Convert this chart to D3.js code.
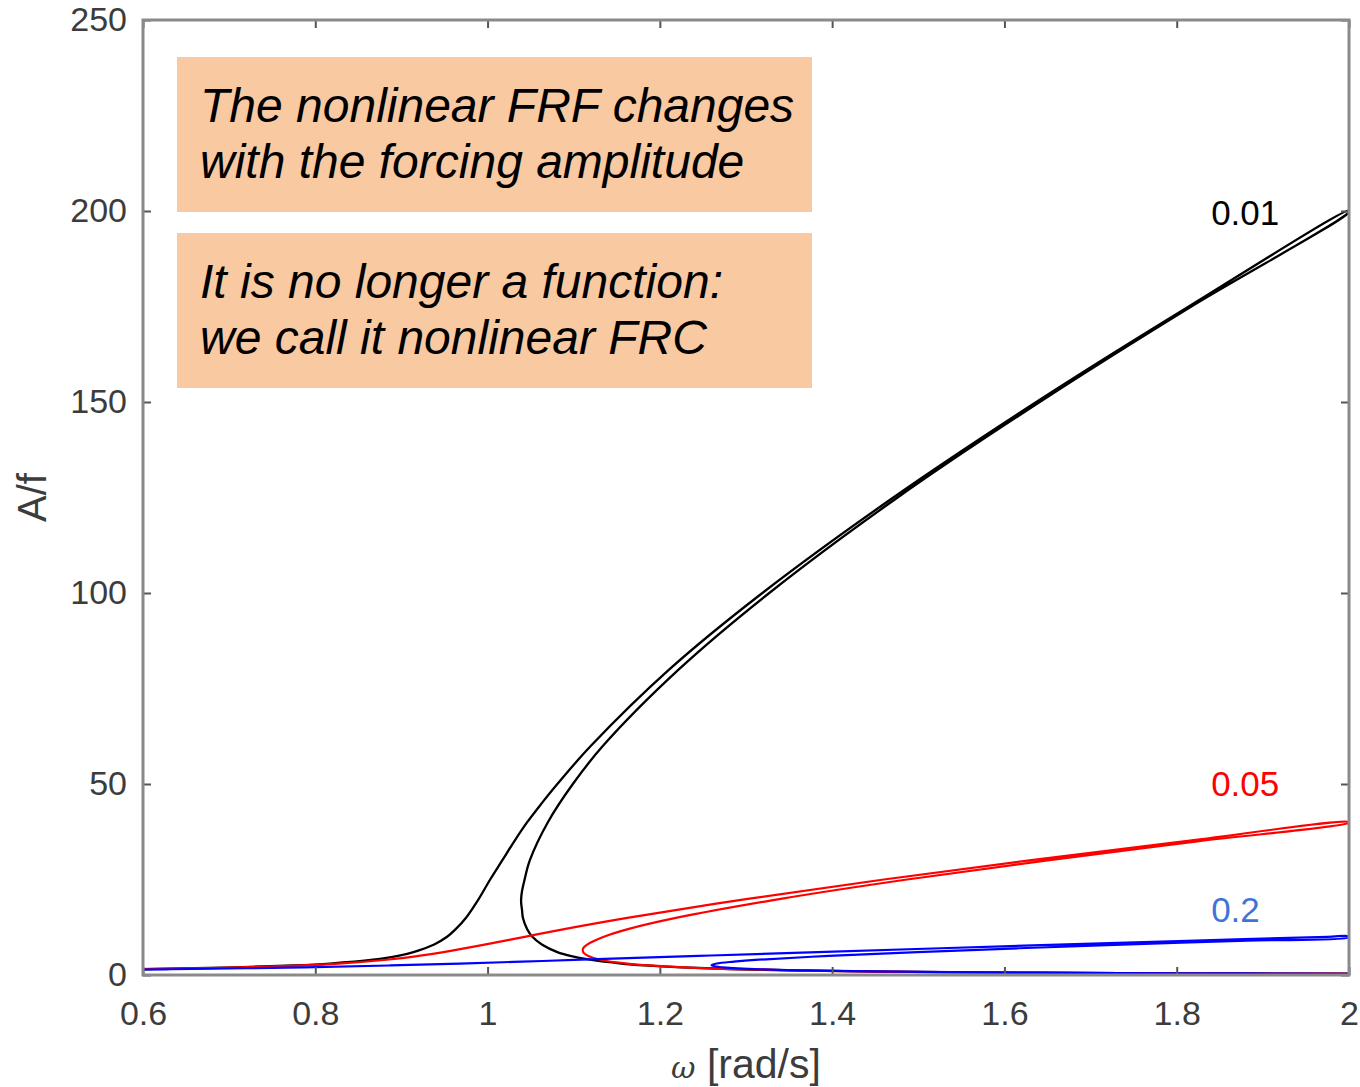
<!DOCTYPE html>
<html>
<head>
<meta charset="utf-8">
<script src="https://cdn.jsdelivr.net/npm/d3@7"></script>
<style>
  html, body { margin: 0; padding: 0; background: #ffffff; }
  svg { display: block; }
  text { font-family: "Liberation Sans", Arial, Helvetica, sans-serif; }
</style>
</head>
<body>
<svg id="chart" width="1360" height="1087"></svg>
<script>
// Frequency-response curves (A/f versus omega) for three forcing amplitudes.
// Each curve is ordered along its path: stable upper branch up to omega = 2,
// back along the unstable middle branch to the fold, then the lower branch.

// forcing amplitude 0.01
const omegaF001 = [0.600, 0.707, 0.775, 0.817, 0.867, 0.896, 0.914, 0.938, 0.953, 0.963, 0.975, 0.990, 1.003, 1.017, 1.031, 1.046, 1.063, 1.081, 1.120, 1.211, 1.319, 1.471, 1.637, 1.814, 2.000,
                   2.000, 1.817, 1.641, 1.476, 1.327, 1.222, 1.134, 1.099, 1.070, 1.049, 1.043, 1.040, 1.039, 1.039, 1.040, 1.041, 1.046, 1.052, 1.063, 1.081, 1.096, 1.119, 1.155, 1.183, 1.225, 1.291, 1.414, 1.528, 1.732, 1.871, 2.000];
const ampF001   = [1.56, 2.0, 2.5, 3.0, 4.0, 5.0, 6.0, 8.0, 10.0, 12.0, 15.0, 20.0, 25.0, 30.0, 35.0, 40.0, 45.0, 50.0, 60.0, 80.0, 100.0, 125.0, 150.0, 175.0, 200.1,
                   199.7, 175.0, 150.0, 125.0, 100.0, 80.0, 60.0, 50.0, 40.0, 30.0, 25.0, 22.0, 20.0, 18.8, 17.0, 15.0, 12.0, 10.0, 8.0, 6.0, 5.0, 4.0, 3.0, 2.5, 2.0, 1.5, 1.0, 0.75, 0.5, 0.4, 0.335];

// forcing amplitude 0.05
const omegaF005 = [0.600, 0.712, 0.827, 0.883, 0.920, 0.949, 0.998, 1.043, 1.089, 1.164, 1.304, 1.460, 1.629, 1.808, 2.000,
                   2.000, 1.824, 1.650, 1.487, 1.342, 1.220, 1.163, 1.135, 1.116, 1.111, 1.1105, 1.1115, 1.117, 1.131, 1.162, 1.228, 1.293, 1.415, 1.528, 1.732, 1.871, 2.000];
const ampF005   = [1.565, 2.0, 3.0, 4.0, 5.0, 6.0, 8.0, 10.0, 12.0, 15.0, 20.0, 25.0, 30.0, 35.0, 40.05,
                   39.83, 35.0, 30.0, 25.0, 20.0, 15.0, 12.0, 10.0, 8.0, 7.0, 6.44, 5.8, 5.0, 4.0, 3.0, 2.0, 1.5, 1.0, 0.75, 0.5, 0.4, 0.334];

// forcing amplitude 0.2
const omegaF02 = [0.600, 0.633, 0.787, 0.887, 0.968, 1.040, 1.109, 1.245, 1.383, 1.526, 1.672, 1.822, 1.975, 2.000,
                  2.000, 1.882, 1.745, 1.617, 1.499, 1.396, 1.315, 1.286, 1.266, 1.260, 1.265, 1.273, 1.317, 1.370, 1.425, 1.506, 1.636, 1.734, 1.872, 2.000];
const ampF02   = [1.43, 1.5, 2.0, 2.5, 3.0, 3.5, 4.0, 5.0, 6.0, 7.0, 8.0, 9.0, 10.0, 10.13,
                  9.83, 9.0, 8.0, 7.0, 6.0, 5.0, 4.0, 3.5, 3.0, 2.554, 2.2, 2.0, 1.5, 1.2, 1.0, 0.8, 0.6, 0.5, 0.4, 0.33];

const seriesNames  = ["0.01", "0.05", "0.2"];
const seriesColors = ["#000000", "#ff0000", "#0000ff"];
const labelColors  = ["#000000", "#ff0000", "#3f74d6"];
const labelValues  = [199.5, 50, 17];   // A/f height of each amplitude tag

const xTicks = [0.6, 0.8, 1, 1.2, 1.4, 1.6, 1.8, 2];
const yTicks = [0, 50, 100, 150, 200, 250];

const noteLines1 = ["The nonlinear FRF changes", "with the forcing amplitude"];
const noteLines2 = ["It is no longer a function:", "we call it nonlinear FRC"];

// ---- layout ----
const plot = { left: 143, right: 1349, top: 20, bottom: 975 };
const svg = d3.select("#chart");

const x = d3.scaleLinear().domain([0.6, 2]).range([plot.left, plot.right]);
const y = d3.scaleLinear().domain([0, 250]).range([plot.bottom, plot.top]);

const axisGrey = "#8a8a8a";
const tickText = "#3c3c3c";

svg.append("defs").append("clipPath").attr("id", "plotClip")
  .append("rect")
  .attr("x", plot.left).attr("y", plot.top)
  .attr("width", plot.right - plot.left).attr("height", plot.bottom - plot.top);

// ---- curves ----
const curves = [
  { omega: omegaF001, amp: ampF001 },
  { omega: omegaF005, amp: ampF005 },
  { omega: omegaF02,  amp: ampF02 }
];

const line = d3.line()
  .x(d => x(d[0]))
  .y(d => y(d[1]))
  .curve(d3.curveCatmullRom.alpha(0.5));

const curveGroup = svg.append("g").attr("clip-path", "url(#plotClip)");
curves.forEach((c, i) => {
  const pts = c.omega.map((w, k) => [w, c.amp[k]]);
  curveGroup.append("path")
    .attr("d", line(pts))
    .attr("fill", "none")
    .attr("stroke", seriesColors[i])
    .attr("stroke-width", i === 0 ? 2.3 : 2.2)
    .attr("stroke-linejoin", "round")
    .attr("stroke-linecap", "round");
});

// ---- axes (box with inward ticks on all four sides) ----
const tickLen = 8;
const axes = svg.append("g");

const bottomAxis = d3.axisBottom(x).tickValues(xTicks).tickSize(-tickLen).tickPadding(26)
  .tickFormat(d3.format("~g"));
const topAxis = d3.axisTop(x).tickValues(xTicks).tickSize(-tickLen).tickFormat("");
const leftAxis = d3.axisLeft(y).tickValues(yTicks).tickSize(-tickLen).tickPadding(16);
const rightAxis = d3.axisRight(y).tickValues(yTicks).tickSize(-tickLen).tickFormat("");

function styleAxis(g) {
  g.select(".domain").remove();
  g.selectAll(".tick line").attr("stroke", "#555").attr("stroke-width", 2);
  g.selectAll(".tick text")
    .attr("fill", tickText)
    .style("font-size", "34px")
    .style("font-family", "'Liberation Sans', Arial, sans-serif");
}

axes.append("g").attr("transform", `translate(0,${plot.bottom})`).call(bottomAxis).call(styleAxis);
axes.append("g").attr("transform", `translate(0,${plot.top})`).call(topAxis).call(styleAxis);
axes.append("g").attr("transform", `translate(${plot.left},0)`).call(leftAxis).call(styleAxis);
axes.append("g").attr("transform", `translate(${plot.right},0)`).call(rightAxis).call(styleAxis);

// frame
axes.append("rect")
  .attr("x", plot.left).attr("y", plot.top)
  .attr("width", plot.right - plot.left).attr("height", plot.bottom - plot.top)
  .attr("fill", "none")
  .attr("stroke", axisGrey)
  .attr("stroke-width", 3);

// ---- axis titles ----
const xTitle = svg.append("text")
  .attr("x", (plot.left + plot.right) / 2)
  .attr("y", 1078)
  .attr("text-anchor", "middle")
  .attr("fill", tickText)
  .style("font-size", "41px");
xTitle.append("tspan").text("ω").style("font-style", "italic").style("font-family", "'DejaVu Serif', serif").style("font-size", "30px");
xTitle.append("tspan").text(" [rad/s]");

svg.append("text")
  .attr("transform", `translate(46,${(plot.top + plot.bottom) / 2}) rotate(-90)`)
  .attr("text-anchor", "middle")
  .attr("fill", tickText)
  .style("font-size", "40px")
  .text("A/f");

// ---- amplitude tags ----
seriesNames.forEach((name, i) => {
  svg.append("text")
    .attr("x", x(1.84))
    .attr("y", y(labelValues[i]) + 12)
    .attr("fill", labelColors[i])
    .style("font-size", "35px")
    .text(name);
});

// ---- annotation boxes ----
const boxFill = "#f9c9a1";
function noteBox(top, lines) {
  svg.append("rect")
    .attr("x", 177).attr("y", top)
    .attr("width", 635).attr("height", 155)
    .attr("fill", boxFill);
  lines.forEach((t, k) => {
    svg.append("text")
      .attr("x", 200)
      .attr("y", top + 65 + k * 56)
      .attr("fill", "#000")
      .style("font-size", "48px")
      .style("font-style", "italic")
      .text(t);
  });
}
noteBox(57, noteLines1);
noteBox(233, noteLines2);
</script>
</body>
</html>
